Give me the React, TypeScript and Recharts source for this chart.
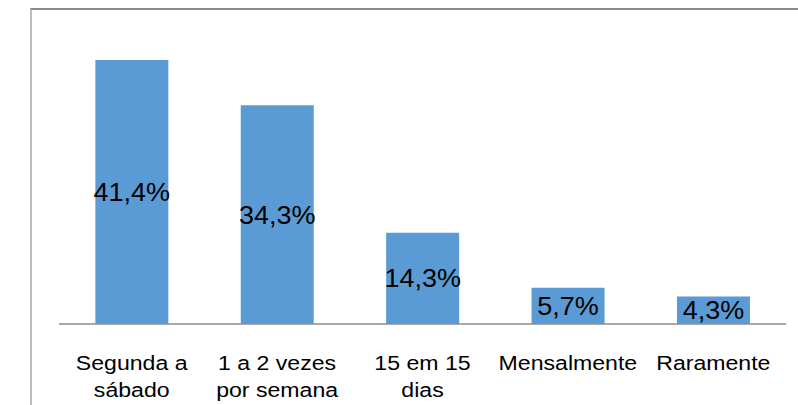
import { BarChart, Bar, XAxis, YAxis, LabelList } from "recharts";

// frequency categories and their share of answers (%)
const categories = ["Segunda a sábado", "1 a 2 vezes por semana", "15 em 15 dias", "Mensalmente", "Raramente"];
const values = [41.4, 34.3, 14.3, 5.7, 4.3];
// how each category label breaks into lines under the axis
const tickLines = [
  ["Segunda a", "sábado"],
  ["1 a 2 vezes", "por semana"],
  ["15 em 15", "dias"],
  ["Mensalmente"],
  ["Raramente"],
];

const data = categories.map((name, i) => ({ name, value: values[i] }));

const FONT = "'Liberation Sans', Arial, sans-serif";

function CategoryTick({ x, y, index }: any) {
  const lines = tickLines[index] || [];
  return (
    <g transform={`translate(${x},${y}) scale(1.1,1)`}>
      {lines.map((line, i) => (
        <text
          key={i}
          x={0}
          y={38 + i * 27}
          textAnchor="middle"
          fill="#000"
          fontSize={21}
          fontFamily={FONT}
        >
          {line}
        </text>
      ))}
    </g>
  );
}

const formatPct = (v: number) => `${v.toFixed(1).replace(".", ",")}%`;

// value printed in the middle of each bar, slightly widened
function ValueLabel({ x, y, width, height, value }: any) {
  const cx = x + width / 2;
  const cy = y + height / 2;
  return (
    <g transform={`translate(${cx},${cy}) scale(1.08,1)`}>
      <text
        x={0}
        y={0}
        dy="0.355em"
        textAnchor="middle"
        fill="#000"
        fontSize={25}
        fontFamily={FONT}
      >
        {formatPct(Number(value))}
      </text>
    </g>
  );
}

export default function App() {
  return (
    <div style={{ position: "fixed", left: 0, top: 0, width: 798, height: 405, background: "#fff" }}>
      {/* outer frame: top and left edges only */}
      <div
        style={{
          position: "absolute",
          left: 30,
          top: 8,
          width: 768,
          height: 397,
          borderTop: "2px solid #8a8a8a",
          borderLeft: "2px solid #bdbdbd",
          boxSizing: "border-box",
        }}
      />
      <div style={{ position: "absolute", left: 0, top: 0 }}>
        <BarChart
          width={798}
          height={405}
          data={data}
          margin={{ top: 37, right: 12, left: 59, bottom: 11 }}
          barCategoryGap="25%"
        >
          <YAxis hide domain={[0, 45]} />
          <XAxis
            dataKey="name"
            interval={0}
            height={70}
            axisLine={{ stroke: "#8c8c8c", strokeWidth: 1.5 }}
            tickLine={false}
            tick={<CategoryTick />}
          />
          <Bar dataKey="value" fill="#5b9bd5" isAnimationActive={false}>
            <LabelList dataKey="value" content={<ValueLabel />} />
          </Bar>
        </BarChart>
      </div>
    </div>
  );
}
